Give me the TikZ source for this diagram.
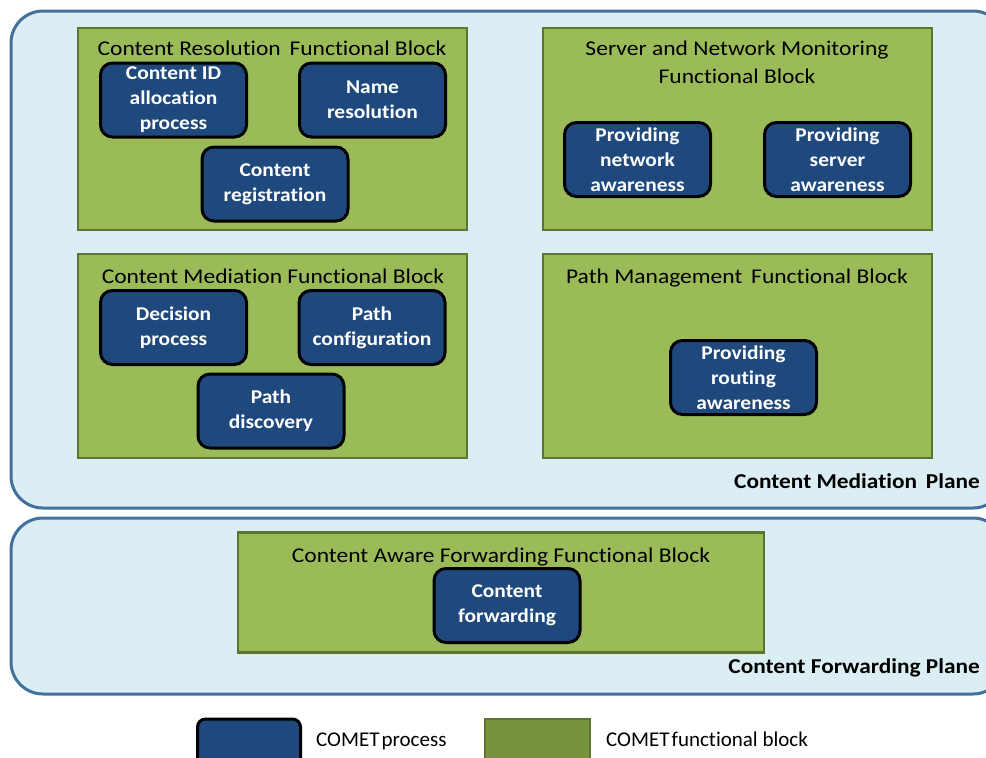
\documentclass[tikz,border=0pt]{standalone}
\usepackage{fontspec}
\setmainfont{Carlito}[Ligatures=NoCommon]
\definecolor{planefill}{HTML}{DBEEF4}
\definecolor{planeedge}{HTML}{41719C}
\definecolor{blockfill}{HTML}{9BBB59}
\definecolor{blockedge}{HTML}{5E7530}
\definecolor{procfill}{HTML}{1F497D}
\definecolor{legendgreen}{HTML}{77933C}
\tikzset{
  plane/.style={draw=planeedge, fill=planefill, line width=3pt, rounded corners=32pt},
  fblock/.style={draw=blockedge, fill=blockfill, line width=2.5pt, inner sep=0pt},
  proc/.style={draw=black, fill=procfill, line width=3pt, rounded corners=12pt,
    text=white, align=center, inner sep=0pt, minimum width=146pt, minimum height=74pt,
    font=\fontsize{19.5}{25}\selectfont\bfseries\addfontfeature{FakeStretch=1.1}},
  btitle/.style={anchor=base, inner sep=0pt,
    font=\fontsize{21}{28}\selectfont\addfontfeature{FakeStretch=1.12}},
  planelabel/.style={anchor=base east, inner sep=0pt,
    font=\fontsize{21.2}{24}\selectfont\bfseries\addfontfeature{FakeStretch=1.1}},
  legendtext/.style={anchor=base west, inner sep=0pt,
    font=\fontsize{21}{24}\selectfont},
}
\begin{document}
\begin{tikzpicture}[x=1pt,y=-1pt]
  \useasboundingbox (0,0) rectangle (986,758);
  \clip (0,0) rectangle (986,758);

  % planes
  \draw[plane] (11,11) rectangle (1005,508);
  \draw[plane] (11,518) rectangle (1005,694);
  \node[planelabel] (mplane) at (980,488) {Content Mediation\, Plane};
  \node[planelabel] (fplane) at (980,673) {Content Forwarding Plane};

  % functional blocks of the mediation plane
  \node[fblock, minimum width=389pt, minimum height=202pt] (crb) at (272.5,129) {};
  \node[fblock, minimum width=389pt, minimum height=202pt] (snb) at (737.5,129) {};
  \node[fblock, minimum width=389pt, minimum height=204pt] (cmb) at (272.5,356) {};
  \node[fblock, minimum width=389pt, minimum height=204pt] (pmb) at (737.5,356) {};

  \node[btitle] (crt) at (272,55) {Content Resolution\, Functional Block};
  \node[btitle] (snt1) at (737,55) {Server and Network Monitoring};
  \node[btitle] (snt2) at (737,83) {Functional Block};
  \node[btitle] (cmt) at (273,283) {Content Mediation Functional Block};
  \node[btitle] (pmt) at (737,283) {Path Management\, Functional Block};

  % processes
  \node[proc] (cid) at (173.5,100) {Content ID\\allocation\\process};
  \node[proc] (nres) at (372.5,100) {Name\\resolution};
  \node[proc] (creg) at (275,184) {Content\\registration};

  \node[proc] (netaw) at (637.5,159.5) {Providing\\network\\awareness};
  \node[proc] (srvaw) at (837.5,159.5) {Providing\\server\\awareness};

  \node[proc] (dec) at (173.5,327.5) {Decision\\process};
  \node[proc] (pconf) at (372,327.5) {Path\\configuration};
  \node[proc] (pdisc) at (271,411) {Path\\discovery};

  \node[proc] (rtaw) at (743.5,377.5) {Providing\\routing\\awareness};

  % forwarding plane
  \node[fblock, minimum width=526pt, minimum height=120pt] (cafb) at (501,592.5) {};
  \node[btitle] (caft) at (501,562) {Content Aware Forwarding Functional Block};
  \node[proc] (cfwd) at (507,605.5) {Content\\forwarding};

  % legend
  \node[draw=black, fill=procfill, line width=3pt, rounded corners=8pt,
        minimum width=103pt, minimum height=60pt, inner sep=0pt] (lproc) at (249,749) {};
  \node[legendtext] (lproct) at (316,746) {COMET\hspace{0.1em}process};
  \node[draw=blockedge, fill=legendgreen, line width=2.5pt,
        minimum width=105pt, minimum height=60pt, inner sep=0pt] (lblock) at (537.5,749) {};
  \node[legendtext] (lblockt) at (606,746) {COMET\hspace{0.1em}functional block};
\end{tikzpicture}
\end{document}
